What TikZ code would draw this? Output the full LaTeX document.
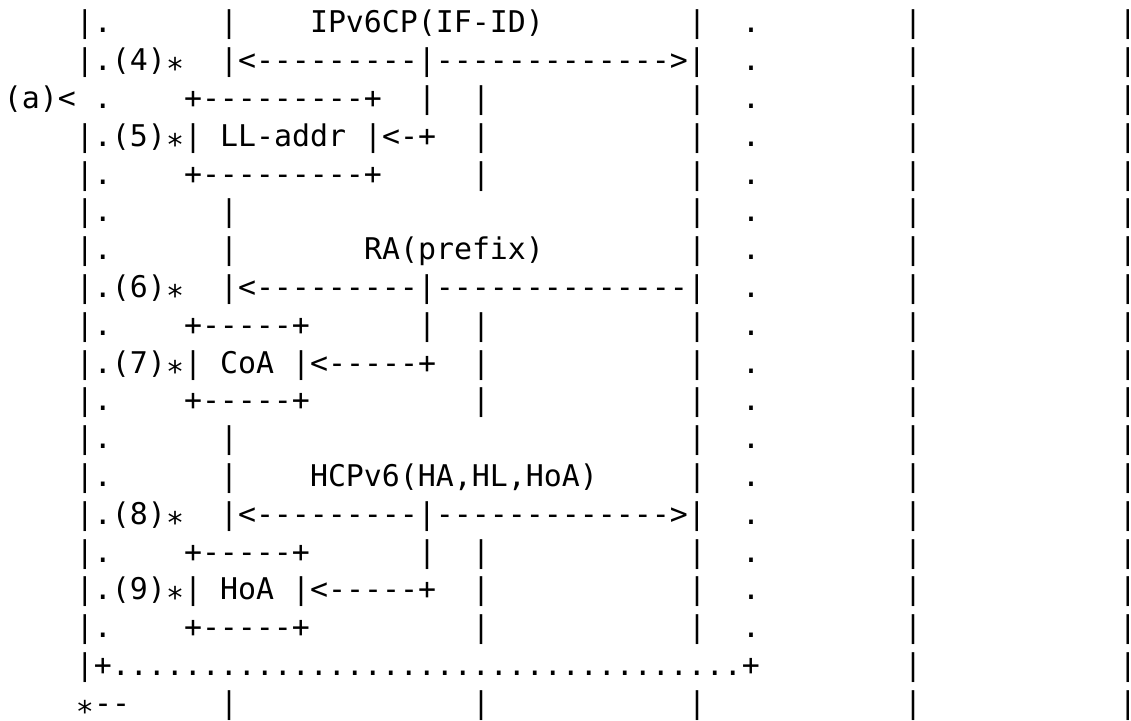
\documentclass[tikz,border=0pt]{standalone}
\usepackage{fontspec}
\newfontfamily\asciifont{DejaVu Sans Mono}
% asterisk set at mid height, keeping its monospace width and the line's depth
\newcommand\lst{\smash{\lower0.3em\hbox{*}}}
\tikzset{
  asc/.style={anchor=base west,inner sep=0pt,outer sep=0pt,
    font=\asciifont\fontsize{14.95pt}{18pt}\selectfont},
  edgebar/.style={asc,anchor=base},
}
\begin{document}
% one unit in x is one character column, one unit in y is one text line
\begin{tikzpicture}[x=9pt,y=-18.9pt]
\useasboundingbox (-0.2222,-0.873) rectangle (62.611,18.201);

% outer left frame of the dotted box
\foreach \r in {0,4,5,6,8,10,11,12,14,16}
  \node[asc] (left\r) at (4,\r) {|.};
\node[asc] (s4) at (4,1) {|.(4)\lst};
\node[asc] (a) at (0,2) {(a)<};
\node[asc] (adot) at (5,2) {.};
\node[asc] (s5) at (4,3) {|.(5)\lst| LL-addr |<-+};
\node[asc] (s6) at (4,7) {|.(6)\lst};
\node[asc] (s7) at (4,9) {|.(7)\lst| CoA |<-----+};
\node[asc] (s8) at (4,13) {|.(8)\lst};
\node[asc] (s9) at (4,15) {|.(9)\lst| HoA |<-----+};
\node[asc] (bottom) at (4,17) {|+...................................+};
\node[asc] (end) at (4,18) {\lst--};

% address boxes
\node[asc] (lltop) at (10,2) {+---------+};
\node[asc] (llbot) at (10,4) {+---------+};
\foreach \r in {8,10,14,16}
  \node[asc] (box\r) at (10,\r) {+-----+};

% message exchanges
\node[asc] (m1) at (17,0) {IPv6CP(IF-ID)};
\node[asc] (x1) at (12,1) {|<---------|------------->|};
\node[asc] (m2) at (20,6) {RA(prefix)};
\node[asc] (x2) at (12,7) {|<---------|--------------|};
\node[asc] (m3) at (17,12) {HCPv6(HA,HL,HoA)};
\node[asc] (x3) at (12,13) {|<---------|------------->|};

% life lines
\foreach \r in {0,5,6,11,12,18}
  \node[asc] (la\r) at (12,\r) {|};
\foreach \r in {2,8,14}
  \node[asc] (lb\r) at (23,\r) {|};
\foreach \r in {2,3,4,8,9,10,14,15,16,18}
  \node[asc] (lc\r) at (26,\r) {|};
\foreach \r in {0,2,3,4,5,6,8,9,10,11,12,14,15,16,18}
  \node[asc] (ld\r) at (38,\r) {|};
\foreach \r in {0,...,16}
  \node[asc] (dot\r) at (41,\r) {.};
\foreach \r in {0,...,18}{
  \node[asc] (le\r) at (50,\r) {|};
  % last column sits on the right border
  \node[edgebar] (lf\r) at (62.44,\r) {\makebox[2pt]{|}};
}
\end{tikzpicture}
\end{document}
